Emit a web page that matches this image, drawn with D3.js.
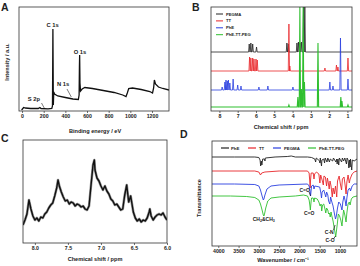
<!DOCTYPE html>
<html>
<head>
<meta charset="utf-8">
<script src="https://cdnjs.cloudflare.com/ajax/libs/d3/7.8.5/d3.min.js"></script>
<style>
  body { margin: 0; background: #fff; }
  svg text { font-family: "Liberation Sans", Arial, sans-serif; font-weight: bold; fill: #222; }
  .tick line { stroke: #333; stroke-width: 0.7; }
  .tick text { font-size: 5.2px; }
</style>
</head>
<body>
<svg id="fig" width="360" height="266"></svg>
<script>
// ---- A: XPS survey (binding energy eV, intensity a.u.) ----
const xpsTicks = [0, 200, 400, 600, 800, 1000, 1200];
const xpsSurvey = [
  [-5, 1], [0, 1.5], [15, 3.5], [30, 3], [80, 2.5], [150, 2.5], [165, 3.5], [175, 2.5],
  [240, 2.2], [275, 2.5], [281, 5], [283, 40], [285, 82], [287, 45], [289, 6], [293, 19],
  [300, 17], [330, 15], [400, 13.5], [470, 12], [520, 11.5], [527, 16], [530, 45], [532, 56],
  [535, 28], [540, 20], [555, 22], [580, 23.5], [650, 22.5], [750, 20.5], [850, 18.5],
  [930, 16], [960, 14.5], [972, 18], [985, 22.5], [1020, 23], [1100, 21.5], [1180, 19.5],
  [1205, 18], [1215, 23], [1222, 31], [1232, 27], [1260, 24], [1300, 22.5], [1357, 21]
];
const xpsLabels = [["C 1s", 283, 84], ["O 1s", 535, 57], ["N 1s", 380, 25], ["S 2p", 110, 10]];

// ---- B: 1H NMR stick spectra (ppm, height) ----
const nmrTicks = [8, 7, 6, 5, 4, 3, 2, 1];
const nmrNames = ["PEGMA", "TT", "PhE", "PhE-TT-PEG"];
const nmrColors = ["#222", "#e8262a", "#2a3fe0", "#2fbf2f"];
const nmrOffsets = [59, 40, 21, 4];
const pegmaPeaks = [[6.37, 8], [6.28, 9], [6.18, 8], [5.97, 5], [4.31, 9], [4.23, 8],
  [3.76, 9], [3.68, 10], [3.6, 9], [3.52, 10], [3.4, 45], [3.33, 45]];
const ttPeaks = [[6.35, 14], [6.28, 13], [6.18, 13], [6.11, 12], [6.0, 12], [5.93, 11],
  [4.2, 47], [4.15, 5], [2.23, 3], [1.6, 6], [1.52, 4], [0.97, 13]];
const phePeaks = [[7.85, 3], [7.7, 8], [7.64, 10], [7.57, 9], [7.51, 10], [7.43, 7], [7.25, 11],
  [7.0, 5], [6.82, 4], [5.84, 3], [5.35, 4], [3.98, 3], [1.96, 8], [1.79, 4], [1.38, 52], [0.97, 11]];
const conjPeaks = [[4.2, 2], [3.71, 10], [3.6, 100], [3.52, 18], [3.42, 100], [3.35, 25],
  [2.61, 64], [1.36, 10], [1.3, 6], [0.97, 2]];

// ---- C: aromatic region of PhE-TT-PEG (ppm, intensity) ----
const aroTicks = [8.0, 7.5, 7.0, 6.5, 6.0];
const aroSpectrum = [
  [8.18, 18], [8.15, 23], [8.12, 29], [8.09, 43], [8.06, 34], [8.03, 27], [8.0, 23], [7.97, 25],
  [7.94, 22], [7.91, 26], [7.88, 25], [7.85, 29], [7.82, 31], [7.79, 35], [7.76, 38], [7.73, 40],
  [7.7, 47], [7.67, 55], [7.65, 63], [7.63, 57], [7.6, 51], [7.57, 46], [7.54, 42], [7.51, 43],
  [7.48, 39], [7.45, 41], [7.42, 40], [7.39, 37], [7.36, 39], [7.33, 38], [7.3, 36], [7.27, 37],
  [7.24, 34], [7.21, 33], [7.18, 37], [7.15, 58], [7.12, 78], [7.1, 83], [7.09, 73], [7.06, 65],
  [7.03, 62], [7.0, 57], [6.97, 53], [6.94, 57], [6.91, 52], [6.88, 49], [6.85, 44], [6.82, 42],
  [6.79, 38], [6.76, 39], [6.73, 36], [6.7, 33], [6.67, 34], [6.64, 48], [6.61, 58], [6.58, 41],
  [6.55, 47], [6.51, 31], [6.48, 25], [6.45, 22], [6.42, 24], [6.39, 21], [6.36, 23], [6.33, 22],
  [6.3, 25], [6.27, 31], [6.26, 34], [6.24, 27], [6.21, 23], [6.18, 26], [6.15, 28], [6.12, 29],
  [6.09, 28], [6.06, 30], [6.03, 26], [6.0, 23]
];

// ---- D: FTIR (wavenumber, transmittance a.u.) ----
const irTicks = [4000, 3500, 3000, 2500, 2000, 1500, 1000];
const irNames = ["PhE", "TT", "PEGMA", "PhE-TT-PEG"];
const irPhE = [
  [4155, 89], [3600, 89], [3100, 89], [3000, 88.5], [2970, 86], [2955, 80], [2940, 85], [2925, 81],
  [2905, 87], [2860, 87], [2850, 85], [2840, 88], [2600, 89], [2300, 89.5], [2200, 90], [2100, 89],
  [1800, 89], [1700, 88.5], [1620, 87], [1600, 84], [1585, 88], [1500, 85], [1495, 83], [1485, 88],
  [1455, 80], [1445, 86], [1400, 87], [1380, 83], [1365, 88], [1320, 84], [1300, 88], [1260, 84],
  [1240, 87], [1180, 85], [1160, 88], [1100, 84], [1080, 87], [1070, 82], [1050, 87], [1030, 81],
  [1015, 88], [960, 84], [940, 88], [910, 85], [880, 88], [840, 82], [825, 88], [800, 86],
  [780, 78], [765, 86], [750, 79], [740, 87], [710, 76], [695, 86], [650, 85], [580, 87]
];
const irTT = [
  [4155, 75], [3100, 75], [3000, 74], [2960, 71], [2930, 73], [2850, 74], [2500, 75], [1800, 75],
  [1760, 73], [1745, 65], [1735, 58], [1725, 66], [1710, 73], [1660, 73], [1640, 67], [1625, 72],
  [1580, 74], [1520, 72], [1495, 63], [1475, 71], [1440, 66], [1410, 61], [1395, 70], [1360, 69],
  [1330, 60], [1310, 68], [1290, 64], [1265, 57], [1245, 65], [1220, 60], [1190, 49], [1170, 58],
  [1140, 52], [1110, 60], [1080, 49], [1060, 65], [1020, 70], [990, 62], [960, 56], [940, 67],
  [900, 69], [870, 60], [850, 52], [830, 64], [800, 71], [770, 63], [750, 67], [700, 72],
  [650, 74], [580, 75]
];
const irPEGMA = [
  [4155, 62], [3600, 62], [3100, 61.5], [3000, 60], [2960, 56], [2920, 50], [2890, 46], [2875, 47],
  [2850, 51], [2800, 57], [2700, 60], [2500, 61], [1800, 62], [1760, 60], [1735, 54], [1725, 50],
  [1715, 54], [1700, 60], [1660, 61], [1640, 57], [1620, 60], [1500, 59], [1470, 53], [1455, 48],
  [1440, 54], [1400, 56], [1370, 52], [1350, 49], [1330, 54], [1300, 51], [1280, 45], [1250, 42],
  [1230, 49], [1200, 44], [1170, 40], [1140, 33], [1110, 27], [1090, 30], [1060, 38], [1030, 44],
  [990, 42], [950, 36], [930, 44], [900, 50], [870, 45], [850, 40], [830, 48], [800, 56],
  [760, 58], [740, 55], [700, 60], [650, 62], [580, 62]
];
const irConj = [
  [4155, 50], [3700, 50], [3300, 49.5], [3100, 48.5], [3000, 46], [2960, 42], [2920, 36], [2890, 31],
  [2875, 30], [2860, 32], [2830, 38], [2780, 45], [2700, 48], [2500, 49], [2100, 50], [1900, 51],
  [1800, 50], [1760, 46], [1740, 40], [1730, 36], [1722, 40], [1710, 45], [1700, 48], [1660, 48],
  [1640, 44], [1625, 48], [1560, 47], [1520, 44], [1490, 40], [1465, 42], [1450, 35], [1430, 41],
  [1400, 42], [1370, 37], [1350, 33], [1330, 38], [1300, 36], [1280, 32], [1260, 33], [1240, 29],
  [1220, 34], [1200, 30], [1170, 25], [1150, 20], [1120, 13], [1105, 9], [1090, 14], [1060, 24],
  [1040, 32], [1010, 30], [980, 26], [950, 20], [935, 27], [910, 36], [880, 31], [850, 24],
  [830, 33], [800, 42], [770, 44], [750, 41], [720, 47], [680, 49], [580, 50]
];

const svg = d3.select("#fig");
const defs = svg.append("defs");

function panel(id, x, y) {
  const x0 = x.range()[0], x1 = x.range()[1];
  const y0 = y.range()[1], y1 = y.range()[0];
  defs.append("clipPath").attr("id", id).append("rect")
    .attr("x", x0).attr("y", y0).attr("width", x1 - x0).attr("height", y1 - y0);
  return { x0, x1, y0, y1 };
}

function frameAndAxis(b, x, ticks, fmt) {
  svg.append("g")
    .attr("transform", `translate(0,${b.y1})`)
    .call(d3.axisBottom(x).tickValues(ticks).tickFormat(fmt).tickSize(2).tickPadding(1.2))
    .call((g) => g.select(".domain").remove());
  svg.append("rect")
    .attr("x", b.x0).attr("y", b.y0)
    .attr("width", b.x1 - b.x0).attr("height", b.y1 - b.y0)
    .attr("fill", "none").attr("stroke", "#333").attr("stroke-width", 0.8);
}

function title(text, x, y, rot) {
  svg.append("text")
    .attr("transform", `translate(${x},${y})` + (rot ? " rotate(-90)" : ""))
    .attr("text-anchor", "middle").style("font-size", "5.6px").text(text);
}

function letter(text, x, y) {
  svg.append("text").attr("x", x).attr("y", y).style("font-size", "10.5px").text(text);
}

// ================= A =================
const xA = d3.scaleLinear().domain([-28, 1357]).range([19, 169]);
const yA = d3.scaleLinear().domain([0, 104]).range([111, 7]);
const bA = panel("clipA", xA, yA);
svg.append("path")
  .datum(xpsSurvey)
  .attr("clip-path", "url(#clipA)")
  .attr("fill", "none").attr("stroke", "#111").attr("stroke-width", 1.3)
  .attr("d", d3.line().x((d) => xA(d[0])).y((d) => yA(d[1])));
frameAndAxis(bA, xA, xpsTicks, d3.format("d"));
svg.selectAll(".xpsLab")
  .data(xpsLabels)
  .enter()
  .append("text")
  .attr("x", (d) => xA(d[1]))
  .attr("y", (d) => yA(d[2]))
  .attr("text-anchor", "middle")
  .style("font-size", "5.8px")
  .text((d) => d[0]);
// leader lines for the small peaks
svg.append("line").attr("x1", xA(415)).attr("y1", yA(22)).attr("x2", xA(455)).attr("y2", yA(14))
  .attr("stroke", "#222").attr("stroke-width", 0.6);
svg.append("line").attr("x1", xA(180)).attr("y1", yA(8)).attr("x2", xA(205)).attr("y2", yA(3))
  .attr("stroke", "#222").attr("stroke-width", 0.6);
title("Binding energy / eV", 95, 133);
title("Intensity / a.u.", 8.5, 62, true);
letter("A", 1, 10.5);

// ================= B =================
const xB = d3.scaleLinear().domain([8.46, 0.75]).range([211, 352]);
const yB = d3.scaleLinear().domain([0, 104]).range([111, 7]);
const bB = panel("clipB", xB, yB);

function sticks(peaks, base) {
  const w = 0.035;
  const pts = [[8.6, base]];
  peaks.slice().sort((a, b) => b[0] - a[0]).forEach(([p, h]) => {
    pts.push([p + w, base], [p, base + h], [p - w, base]);
  });
  pts.push([0.6, base]);
  return pts;
}

[pegmaPeaks, ttPeaks, phePeaks, conjPeaks].forEach((pk, i) => {
  svg.append("path")
    .datum(sticks(pk, nmrOffsets[i]))
    .attr("clip-path", "url(#clipB)")
    .attr("fill", "none").attr("stroke", nmrColors[i]).attr("stroke-width", i === 3 ? 1.1 : 0.8)
    .attr("d", d3.line().x((d) => xB(d[0])).y((d) => yB(d[1])));
});
frameAndAxis(bB, xB, nmrTicks, d3.format("d"));
const legB = svg.append("g");
nmrNames.forEach((n, i) => {
  const ly = 14 + i * 6.9;
  legB.append("line").attr("x1", 216).attr("x2", 223).attr("y1", ly).attr("y2", ly)
    .attr("stroke", nmrColors[i]).attr("stroke-width", 1);
  legB.append("text").attr("x", 226).attr("y", ly + 1.5).style("font-size", "4.2px").text(n);
});
title("Chemical shift / ppm", 281, 128.5);
letter("B", 192, 10.5);

// ================= C =================
const xC = d3.scaleLinear().domain([8.18, 6.0]).range([23, 167]);
const yC = d3.scaleLinear().domain([0, 103]).range([243, 140]);
const bC = panel("clipC", xC, yC);
const lineC = d3.line().x((d) => xC(d[0])).y((d) => yC(d[1]));
// grey halo mimics the noise band of the raw trace
svg.append("path")
  .datum(aroSpectrum)
  .attr("clip-path", "url(#clipC)")
  .attr("fill", "none").attr("stroke", "#999").attr("stroke-width", 2.6)
  .attr("stroke-linejoin", "round")
  .attr("d", lineC);
svg.append("path")
  .datum(aroSpectrum)
  .attr("clip-path", "url(#clipC)")
  .attr("fill", "none").attr("stroke", "#111").attr("stroke-width", 1.4)
  .attr("stroke-linejoin", "round")
  .attr("d", lineC);
frameAndAxis(bC, xC, aroTicks, d3.format(".1f"));
title("Chemical shift / ppm", 95, 261);
letter("C", 1, 142);

// ================= D =================
const xD = d3.scaleLinear().domain([4155, 580]).range([212, 357]);
const yD = d3.scaleLinear().domain([0, 105]).range([246, 141]);
const bD = panel("clipD", xD, yD);
const irColors = ["#222", "#e8262a", "#2a3fe0", "#2fbf2f"];
[irPhE, irTT, irPEGMA, irConj].forEach((s, i) => {
  svg.append("path")
    .datum(s)
    .attr("clip-path", "url(#clipD)")
    .attr("fill", "none").attr("stroke", irColors[i]).attr("stroke-width", 0.9)
    .attr("d", d3.line().x((d) => xD(d[0])).y((d) => yD(d[1])));
});
frameAndAxis(bD, xD, irTicks, d3.format("d"));

// legend row
const legD = [[221, 231], [248, 259], [273, 284], [308, 319]];
irNames.forEach((n, i) => {
  svg.append("line").attr("x1", legD[i][0]).attr("x2", legD[i][0] + 8).attr("y1", 148).attr("y2", 148)
    .attr("stroke", irColors[i]).attr("stroke-width", 1.2);
  svg.append("text").attr("x", legD[i][1]).attr("y", 149.6).style("font-size", "4.3px").text(n);
});

// peak annotations
const ch = svg.append("text").attr("x", xD(2880)).attr("y", yD(25)).attr("text-anchor", "middle")
  .style("font-size", "5px");
ch.append("tspan").text("CH");
ch.append("tspan").attr("dy", 1.2).style("font-size", "3.6px").text("2");
ch.append("tspan").attr("dy", -1.2).text("&CH");
ch.append("tspan").attr("dy", 1.2).style("font-size", "3.6px").text("3");

const irLabels = [["C=O", 1870, 54], ["C=O", 1760, 31], ["C-N", 1265, 12], ["C-O", 1245, 4]];
svg.selectAll(".irLab")
  .data(irLabels)
  .enter()
  .append("text")
  .attr("x", (d) => xD(d[1]))
  .attr("y", (d) => yD(d[2]))
  .attr("text-anchor", "middle")
  .style("font-size", "5px")
  .text((d) => d[0]);
const irArrows = [[1760, 54, 1725, 50], [1160, 16, 1120, 21], [1160, 7, 1110, 10]];
irArrows.forEach((a) => {
  svg.append("line")
    .attr("x1", xD(a[0])).attr("y1", yD(a[1])).attr("x2", xD(a[2])).attr("y2", yD(a[3]))
    .attr("stroke", "#111").attr("stroke-width", 0.7);
});
title("Wavenumber / cm\u207B\u00B9", 283, 262);
title("Transmittance", 200.5, 198, true);
letter("D", 180, 138);
</script>
</body>
</html>
